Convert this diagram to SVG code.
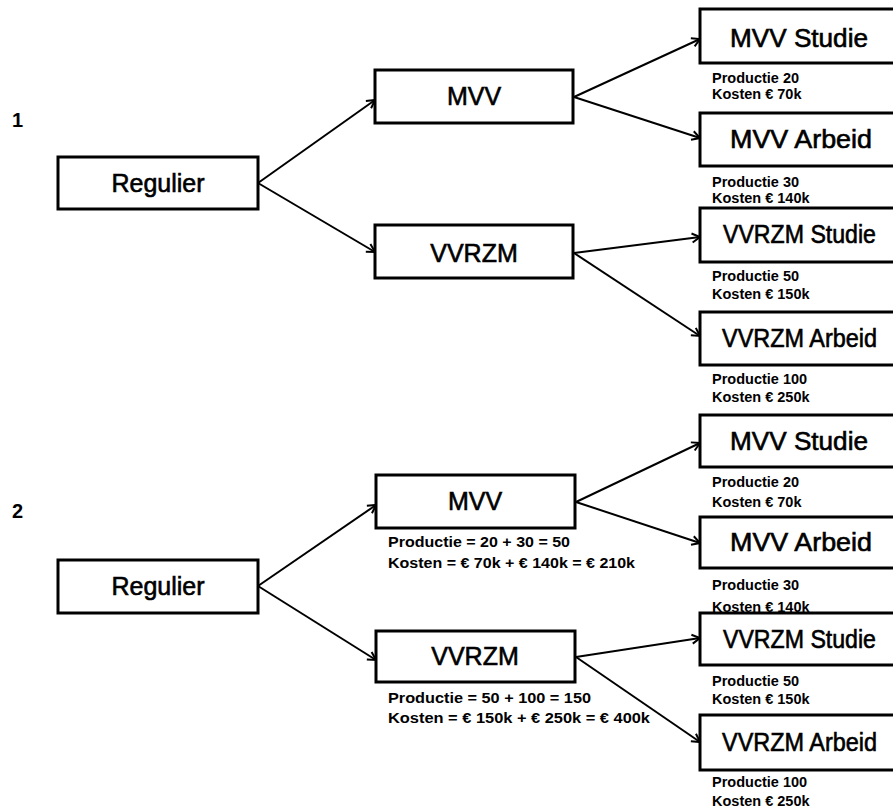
<svg xmlns="http://www.w3.org/2000/svg" width="893" height="811" viewBox="0 0 893 811">
<style>
.box{fill:#fff;stroke:#000;stroke-width:3}
.lbl{font-family:"Liberation Sans",Arial,sans-serif;font-size:25px;fill:#000;stroke:#000;stroke-width:0.6}
.mid{text-anchor:middle}
.note{font-family:"Liberation Sans",Arial,sans-serif;font-size:14.5px;font-weight:bold;fill:#000}
.num{font-family:"Liberation Sans",Arial,sans-serif;font-size:20px;font-weight:bold;fill:#000}
.conn line{stroke:#000;stroke-width:2;marker-end:url(#arr)}
</style>
<defs>
<marker id="arr" markerUnits="userSpaceOnUse" markerWidth="12" markerHeight="12" refX="10" refY="6" orient="auto">
<path d="M2,1.5 L10,6 L2,10.5" fill="none" stroke="#000" stroke-width="2"/>
</marker>
</defs>
<rect width="893" height="811" fill="#fff"/>
<text class="num" x="12" y="127">1</text>
<text class="num" x="12" y="518">2</text>

<g class="conn">
<line x1="258" y1="183" x2="375" y2="100"/>
<line x1="258" y1="183" x2="375" y2="252"/>
<line x1="574" y1="97" x2="700" y2="39"/>
<line x1="574" y1="97" x2="700" y2="138"/>
<line x1="574" y1="253" x2="700" y2="237"/>
<line x1="574" y1="253" x2="700" y2="336"/>
<line x1="258" y1="586" x2="376" y2="505"/>
<line x1="258" y1="586" x2="376" y2="660"/>
<line x1="576" y1="502" x2="700" y2="443"/>
<line x1="576" y1="502" x2="700" y2="543"/>
<line x1="576" y1="657" x2="700" y2="638"/>
<line x1="576" y1="657" x2="700" y2="742"/>
</g>

<!-- Diagram 1 -->
<g id="regulier1"><rect class="box" x="58" y="157" width="200" height="52"/><text class="lbl mid" x="158" y="192">Regulier</text></g>
<g id="mvv1"><rect class="box" x="375" y="70" width="198" height="53"/><text class="lbl mid" x="474" y="105">MVV</text></g>
<g id="vvrzm1"><rect class="box" x="375" y="225" width="198" height="53"/><text class="lbl mid" x="474" y="262">VVRZM</text></g>
<g id="mvvstudie1"><rect class="box" x="700" y="9" width="200" height="54"/><text class="lbl" x="730" y="47" textLength="138" lengthAdjust="spacingAndGlyphs">MVV Studie</text>
<text class="note" x="712" y="83">Productie 20</text><text class="note" x="712" y="99">Kosten € 70k</text></g>
<g id="mvvarbeid1"><rect class="box" x="700" y="113" width="200" height="53"/><text class="lbl" x="730" y="148" textLength="142" lengthAdjust="spacingAndGlyphs">MVV Arbeid</text>
<text class="note" x="712" y="187">Productie 30</text><text class="note" x="712" y="203">Kosten € 140k</text></g>
<g id="vvrzmstudie1"><rect class="box" x="700" y="208" width="200" height="54"/><text class="lbl" x="723" y="243" textLength="153" lengthAdjust="spacingAndGlyphs">VVRZM Studie</text>
<text class="note" x="712" y="281">Productie 50</text><text class="note" x="712" y="299">Kosten € 150k</text></g>
<g id="vvrzmarbeid1"><rect class="box" x="700" y="312" width="200" height="53"/><text class="lbl" x="722" y="347" textLength="155" lengthAdjust="spacingAndGlyphs">VVRZM Arbeid</text>
<text class="note" x="712" y="384">Productie 100</text><text class="note" x="712" y="402">Kosten € 250k</text></g>

<!-- Diagram 2 -->
<g id="regulier2"><rect class="box" x="58" y="560" width="200" height="53"/><text class="lbl mid" x="158" y="595">Regulier</text></g>
<g id="mvv2"><rect class="box" x="376" y="475" width="199" height="53"/><text class="lbl mid" x="475" y="510">MVV</text>
<text class="note" x="388" y="547" textLength="182" lengthAdjust="spacingAndGlyphs">Productie = 20 + 30 = 50</text>
<text class="note" x="388" y="568" textLength="247" lengthAdjust="spacingAndGlyphs">Kosten = € 70k + € 140k = € 210k</text></g>
<g id="vvrzm2"><rect class="box" x="376" y="631" width="199" height="51"/><text class="lbl mid" x="475" y="665">VVRZM</text>
<text class="note" x="388" y="703" textLength="203" lengthAdjust="spacingAndGlyphs">Productie = 50 + 100 = 150</text>
<text class="note" x="388" y="723" textLength="262" lengthAdjust="spacingAndGlyphs">Kosten = € 150k + € 250k = € 400k</text></g>
<g id="mvvstudie2"><rect class="box" x="700" y="415" width="200" height="52"/><text class="lbl" x="730" y="450" textLength="138" lengthAdjust="spacingAndGlyphs">MVV Studie</text>
<text class="note" x="712" y="487">Productie 20</text><text class="note" x="712" y="507">Kosten € 70k</text></g>
<g id="mvvarbeid2"><rect class="box" x="700" y="517" width="200" height="51"/><text class="lbl" x="730" y="551" textLength="142" lengthAdjust="spacingAndGlyphs">MVV Arbeid</text>
<text class="note" x="712" y="590">Productie 30</text><text class="note" x="712" y="612">Kosten € 140k</text></g>
<g id="vvrzmstudie2"><rect class="box" x="700" y="613" width="200" height="52"/><text class="lbl" x="723" y="648" textLength="153" lengthAdjust="spacingAndGlyphs">VVRZM Studie</text>
<text class="note" x="712" y="686">Productie 50</text><text class="note" x="712" y="704">Kosten € 150k</text></g>
<g id="vvrzmarbeid2"><rect class="box" x="700" y="715" width="200" height="55"/><text class="lbl" x="722" y="751" textLength="155" lengthAdjust="spacingAndGlyphs">VVRZM Arbeid</text>
<text class="note" x="712" y="787">Productie 100</text><text class="note" x="712" y="806">Kosten € 250k</text></g>
</svg>
